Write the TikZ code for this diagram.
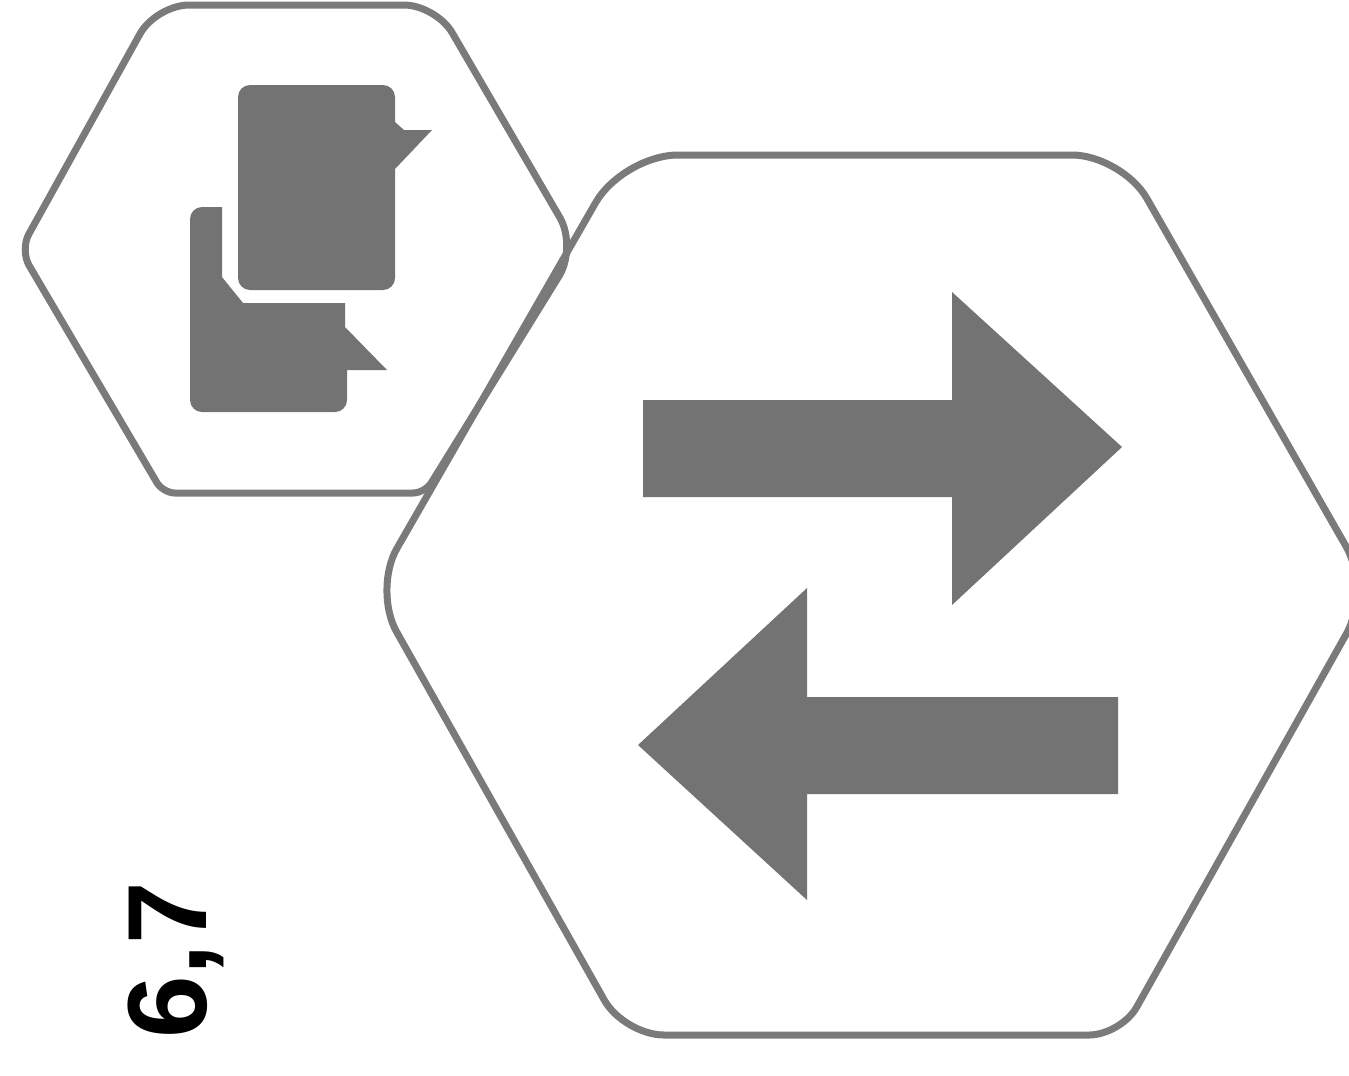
\documentclass[tikz,border=0pt]{standalone}
\usepackage{fontspec}
\setmainfont{Liberation Sans}
\tikzset{
    hexline/.style={draw=black!52, line width=0.07cm, line join=round},
    bubble/.style={fill=black!55, rounded corners=0.12cm},
    flowarrow/.style={fill=black!55},
    reflabel/.style={rotate=90, font=\bfseries\fontsize{32}{32}\selectfont, text=black}
}
\begin{document}
\begin{tikzpicture}[x=0.01cm, y=-0.01cm]
        \useasboundingbox (0,0) rectangle (1349,1075);
        % Small hexagon
        \draw[hexline] (156,5) [rounded corners=0.32cm] -- (436,5) [rounded corners=0.34cm] -- (577,247)
            [rounded corners=0.12cm] -- (425,493) -- (163,493) [rounded corners=0.18cm] -- (20,250)
            [rounded corners=0.33cm] -- cycle;
        % Large hexagon
        \draw[hexline] (623,155) [rounded corners=0.5cm] -- (1122,155) -- (1371,590)
            [rounded corners=0.32cm] -- (1121,1035) [rounded corners=0.4cm] -- (624,1035)
            [rounded corners=0.48cm] -- (373,590) [rounded corners=0.55cm] -- cycle;

        % Speech bubbles
        \fill[bubble] (238,85) -- (395,85) [sharp corners] -- (395,122) -- (404,130) -- (432,130) -- (395,169) [rounded corners=0.12cm] -- (395,290) -- (238,290) -- cycle;
        \fill[bubble] (190,207) [sharp corners] -- (222,207) -- (222,277) -- (243,303) -- (345,303) -- (345,327) -- (387,370) -- (347,370) -- (347,400) [rounded corners=0.12cm] -- (347,412) -- (190,412) -- cycle;

        % Arrows
        \fill[flowarrow] (643,400) -- (952,400) -- (952,292) -- (1122,447) -- (952,605) -- (952,497) -- (643,497) -- cycle;
        \fill[flowarrow] (1118,697) -- (807,697) -- (807,588) -- (638,745) -- (807,900) -- (807,794) -- (1118,794) -- cycle;

        % Reference numeral
        \node[reflabel] (numeral) at (176,960) {6,7};
    \end{tikzpicture}
\end{document}
